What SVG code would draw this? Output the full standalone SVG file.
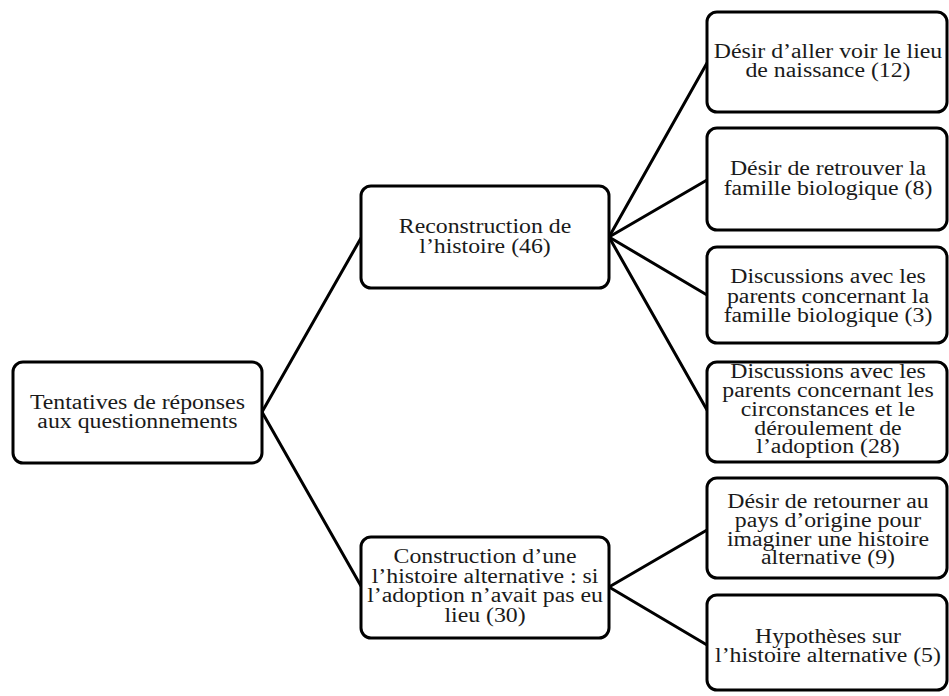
<svg xmlns="http://www.w3.org/2000/svg" width="949" height="696" viewBox="0 0 949 696">
<style>
.box{fill:#fff;stroke:#000;stroke-width:3}
.t{font-family:"Liberation Serif","Times New Roman",serif;font-size:20px;fill:#1a1a1a;text-anchor:middle}
.c{stroke:#000;stroke-width:3;stroke-linecap:round;fill:none}
</style>
<rect width="949" height="696" fill="#fff"/>
<g id="connectors">
<line class="c" x1="262" y1="412" x2="361" y2="238"/>
<line class="c" x1="262" y1="412" x2="361" y2="586"/>
<line class="c" x1="609" y1="237" x2="707" y2="63"/>
<line class="c" x1="609" y1="237" x2="707" y2="180"/>
<line class="c" x1="609" y1="237" x2="707" y2="295"/>
<line class="c" x1="609" y1="237" x2="707" y2="410"/>
<line class="c" x1="609" y1="587" x2="707" y2="530"/>
<line class="c" x1="609" y1="587" x2="707" y2="645"/>
</g>
<g id="root">
<rect class="box" x="13" y="362" width="249" height="101" rx="10"/>
<text class="t" transform="scale(1.19 1)"><tspan x="115.5" y="409">Tentatives de réponses</tspan><tspan x="115.5" y="428">aux questionnements</tspan></text>
</g>
<g id="reconstruction">
<rect class="box" x="361" y="186" width="248" height="102" rx="10"/>
<text class="t" transform="scale(1.19 1)"><tspan x="407.6" y="233">Reconstruction de</tspan><tspan x="407.6" y="253">l’histoire (46)</tspan></text>
</g>
<g id="construction">
<rect class="box" x="361" y="537" width="248" height="101" rx="10"/>
<text class="t" transform="scale(1.19 1)"><tspan x="407.6" y="563">Construction d’une</tspan><tspan x="407.6" y="583">l’histoire alternative : si</tspan><tspan x="407.6" y="602">l’adoption n’avait pas eu</tspan><tspan x="407.6" y="622">lieu (30)</tspan></text>
</g>
<g id="leaf1">
<rect class="box" x="707" y="12" width="240" height="100" rx="10"/>
<text class="t" transform="scale(1.19 1)"><tspan x="695.8" y="58">Désir d’aller voir le lieu</tspan><tspan x="695.8" y="77">de naissance (12)</tspan></text>
</g>
<g id="leaf2">
<rect class="box" x="707" y="128" width="240" height="102" rx="10"/>
<text class="t" transform="scale(1.19 1)"><tspan x="695.8" y="175">Désir de retrouver la</tspan><tspan x="695.8" y="195">famille biologique (8)</tspan></text>
</g>
<g id="leaf3">
<rect class="box" x="707" y="247" width="240" height="96" rx="10"/>
<text class="t" transform="scale(1.19 1)"><tspan x="695.8" y="283">Discussions avec les</tspan><tspan x="695.8" y="303">parents concernant la</tspan><tspan x="695.8" y="322">famille biologique (3)</tspan></text>
</g>
<g id="leaf4">
<rect class="box" x="707" y="362" width="240" height="100" rx="10"/>
<text class="t" transform="scale(1.19 1)"><tspan x="695.8" y="378">Discussions avec les</tspan><tspan x="695.8" y="397">parents concernant les</tspan><tspan x="695.8" y="416">circonstances et le</tspan><tspan x="695.8" y="435">déroulement de</tspan><tspan x="695.8" y="453">l’adoption (28)</tspan></text>
</g>
<g id="leaf5">
<rect class="box" x="707" y="478" width="240" height="100" rx="10"/>
<text class="t" transform="scale(1.19 1)"><tspan x="695.8" y="508">Désir de retourner au</tspan><tspan x="695.8" y="527">pays d’origine pour</tspan><tspan x="695.8" y="546">imaginer une histoire</tspan><tspan x="695.8" y="564">alternative (9)</tspan></text>
</g>
<g id="leaf6">
<rect class="box" x="707" y="595" width="240" height="95" rx="10"/>
<text class="t" transform="scale(1.19 1)"><tspan x="695.8" y="643">Hypothèses sur</tspan><tspan x="695.8" y="662">l’histoire alternative (5)</tspan></text>
</g>
</svg>
